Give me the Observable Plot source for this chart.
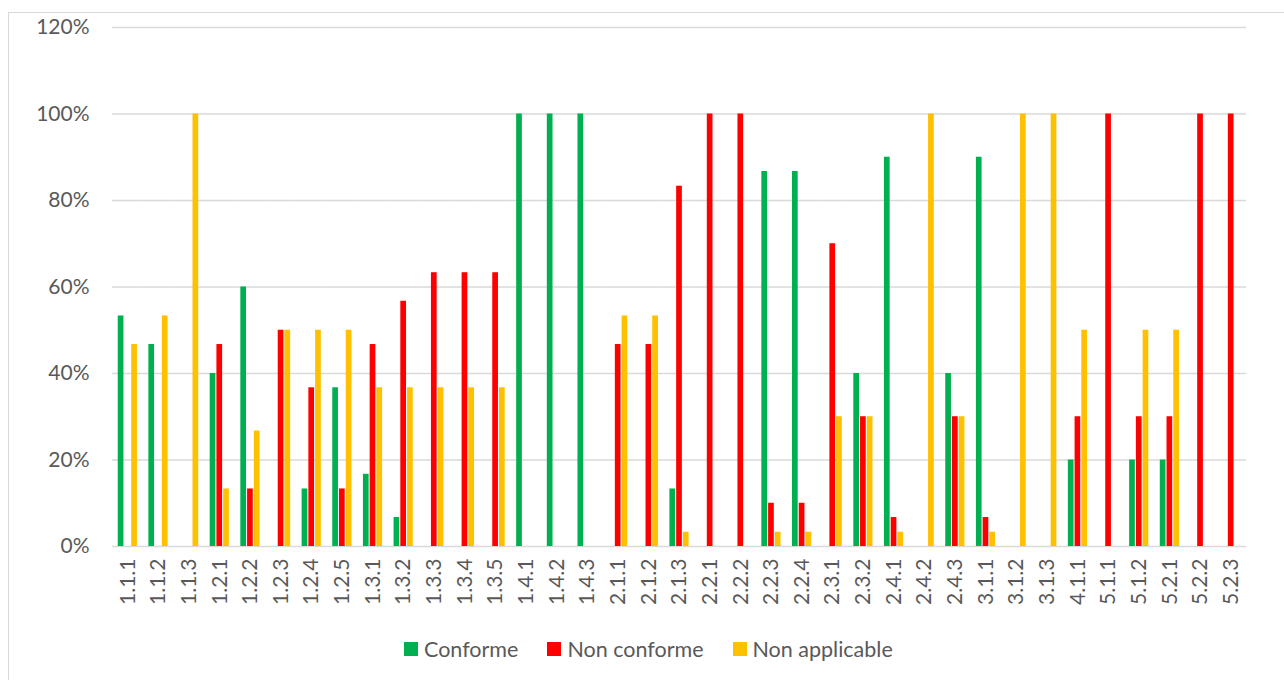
<!DOCTYPE html>
<html>
<head>
<meta charset="utf-8">
<script src="https://cdn.jsdelivr.net/npm/d3@7"></script>
<script src="https://cdn.jsdelivr.net/npm/@observablehq/plot@0.6"></script>
<style>
  body { margin: 0; background: #fff; font-family: Lato, sans-serif; }
  #wrap { position: relative; width: 1284px; height: 680px; overflow: hidden; }
  #frame { position: absolute; left: 8px; top: 12px; width: 1300px; height: 700px; border: 1px solid #d9d9d9; box-sizing: border-box; pointer-events: none; }
  #chart { position: absolute; left: 0; top: 0; }
  #legend { position: absolute; left: 404px; top: 636px; display: flex; align-items: center; font-family: Lato, sans-serif; font-size: 21.5px; color: #595959; }
  .item { display: flex; align-items: center; margin-right: 29px; }
  .sw { width: 14px; height: 14px; margin-right: 6px; }
</style>
</head>
<body>
<div id="wrap">
  <div id="frame"></div>
  <div id="chart"></div>
  <div id="legend"></div>
</div>
<script>
const categories = ["1.1.1","1.1.2","1.1.3","1.2.1","1.2.2","1.2.3","1.2.4","1.2.5","1.3.1","1.3.2","1.3.3","1.3.4","1.3.5","1.4.1","1.4.2","1.4.3","2.1.1","2.1.2","2.1.3","2.2.1","2.2.2","2.2.3","2.2.4","2.3.1","2.3.2","2.4.1","2.4.2","2.4.3","3.1.1","3.1.2","3.1.3","4.1.1","5.1.1","5.1.2","5.2.1","5.2.2","5.2.3"];
const conforme =      [53.3,46.7,0,40,60,0,13.3,36.7,16.7,6.7,0,0,0,100,100,100,0,0,13.3,0,0,86.7,86.7,0,40,90,0,40,90,0,0,20,0,20,20,0,0];
const nonConforme =   [0,0,0,46.7,13.3,50,36.7,13.3,46.7,56.7,63.3,63.3,63.3,0,0,0,46.7,46.7,83.3,100,100,10,10,70,30,6.7,0,30,6.7,0,0,30,100,30,30,100,100];
const nonApplicable = [46.7,53.3,100,13.3,26.7,50,50,50,36.7,36.7,36.7,36.7,36.7,0,0,0,53.3,53.3,3.3,0,0,3.3,3.3,30,30,3.3,100,30,3.3,100,100,50,0,50,50,0,0];
const series = ["Conforme","Non conforme","Non applicable"];
const colors = ["#00B050","#FF0000","#FFC000"];
const yTicks = [0,20,40,60,80,100,120];

const seriesValues = [conforme, nonConforme, nonApplicable];
const data = categories.flatMap((c, i) => series.map((s, j) => ({cat: c, series: s, value: seriesValues[j][i]})));

const chart = Plot.plot({
  width: 1284,
  height: 632,
  marginLeft: 112,
  marginRight: 38,
  marginTop: 27,
  marginBottom: 86,
  style: {fontFamily: "Lato, sans-serif", fontSize: "21px", color: "#595959", background: "transparent"},
  fx: {domain: categories, padding: 0, round: false, label: null},
  x: {domain: series, axis: null, paddingInner: 0.155, paddingOuter: 0.85, round: false},
  y: {domain: [0, 120], axis: null},
  color: {domain: series, range: colors},
  marks: [
    Plot.ruleY(yTicks, {stroke: "#d9d9d9", strokeWidth: 1.5}),
    Plot.barY(data, {fx: "cat", x: "series", y: "value", fill: "series"}),
    Plot.axisY({ticks: yTicks, tickFormat: d => d + "%", tickSize: 0, tickPadding: 23, fontSize: 21, fill: "#595959", label: null}),
    Plot.axisFx({anchor: "bottom", tickRotate: -90, tickSize: 0, tickPadding: 12, fontSize: 21, fill: "#595959", label: null})
  ]
});
document.getElementById("chart").appendChild(chart);

const legend = document.getElementById("legend");
series.forEach((s, i) => {
  const item = document.createElement("div");
  item.className = "item";
  const sw = document.createElement("div");
  sw.className = "sw";
  sw.style.background = colors[i];
  const t = document.createElement("span");
  t.textContent = s;
  item.appendChild(sw);
  item.appendChild(t);
  legend.appendChild(item);
});
</script>
</body>
</html>
